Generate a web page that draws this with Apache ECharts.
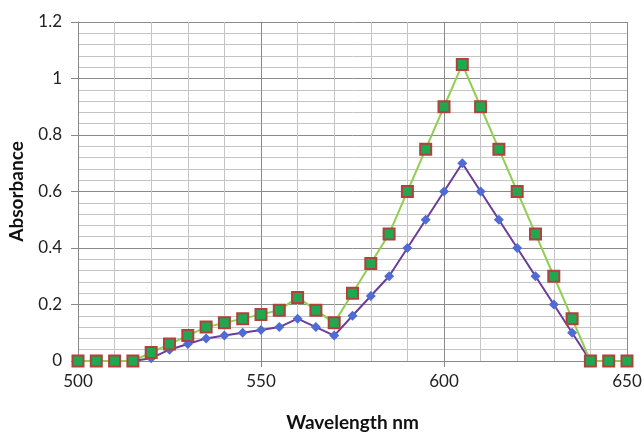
<!DOCTYPE html>
<html>
<head>
<meta charset="UTF-8">
<title>Absorbance</title>
<script src="https://cdn.jsdelivr.net/npm/echarts@6/dist/echarts.min.js"></script>
<style>
  html, body { margin: 0; padding: 0; background: #fff; }
  #chart { width: 644px; height: 432px; }
</style>
</head>
<body>
<div id="chart"></div>
<script>
  // wavelength (nm)
  const wavelengths = [500, 505, 510, 515, 520, 525, 530, 535, 540, 545, 550, 555, 560, 565, 570,
    575, 580, 585, 590, 595, 600, 605, 610, 615, 620, 625, 630, 635, 640, 645, 650];
  // purple line, blue diamonds
  const seriesA = [0, 0, 0, 0, 0.01, 0.04, 0.06, 0.08, 0.09, 0.1, 0.11, 0.12, 0.15, 0.12, 0.09,
    0.16, 0.23, 0.3, 0.4, 0.5, 0.6, 0.7, 0.6, 0.5, 0.4, 0.3, 0.2, 0.1, 0, 0, 0];
  // green line, red/green squares
  const seriesB = [0, 0, 0, 0, 0.03, 0.06, 0.09, 0.12, 0.135, 0.15, 0.165, 0.18, 0.225, 0.18, 0.135,
    0.24, 0.345, 0.45, 0.6, 0.75, 0.9, 1.05, 0.9, 0.75, 0.6, 0.45, 0.3, 0.15, 0, 0, 0];

  const font = "Lato, 'Open Sans', sans-serif";
  const chart = echarts.init(document.getElementById("chart"));

  const pair = (ys) => wavelengths.map((x, i) => [x, ys[i]]);

  chart.setOption({
    animation: false,
    backgroundColor: "#fff",
    grid: { left: 78, right: 17, top: 22, bottom: 71, outerBoundsMode: "none", containLabel: false },
    xAxis: {
      type: "value", min: 500, max: 650, interval: 50,
      name: "Wavelength nm", nameLocation: "middle", nameGap: 52,
      nameTextStyle: { fontFamily: font, fontSize: 19, fontWeight: "bold", color: "#111" },
      axisLine: { show: true, lineStyle: { color: "#888" } },
      axisTick: { show: true, length: 6, lineStyle: { color: "#888" } },
      axisLabel: { fontFamily: font, fontSize: 17, color: "#222", margin: 12 },
      splitLine: { show: true, lineStyle: { color: "#8a8a8a", width: 1 } },
      minorTick: { show: false, splitNumber: 5 },
      minorSplitLine: { show: true, lineStyle: { color: "#c4c4c4", width: 1 } }
    },
    yAxis: {
      type: "value", min: 0, max: 1.2, interval: 0.2,
      name: "Absorbance", nameLocation: "middle", nameGap: 52,
      nameTextStyle: { fontFamily: font, fontSize: 19, fontWeight: "bold", color: "#111" },
      axisLine: { show: true, lineStyle: { color: "#888" } },
      axisTick: { show: true, length: 7, lineStyle: { color: "#888" } },
      axisLabel: { fontFamily: font, fontSize: 17, color: "#222", margin: 16 },
      splitLine: { show: true, lineStyle: { color: "#8a8a8a", width: 1 } },
      minorTick: { show: false, splitNumber: 5 },
      minorSplitLine: { show: true, lineStyle: { color: "#c4c4c4", width: 1 } }
    },
    series: [
      {
        type: "line", data: pair(seriesA),
        symbol: "diamond", symbolSize: 10,
        lineStyle: { color: "#6a3d9a", width: 2 },
        itemStyle: { color: "#4f6bd4", borderWidth: 0 }
      },
      {
        type: "line", data: pair(seriesB),
        symbol: "rect", symbolSize: 11,
        lineStyle: { color: "#92cf50", width: 2 },
        itemStyle: { color: "#1fa84f", borderColor: "#b2403c", borderWidth: 2 }
      }
    ]
  });
</script>
</body>
</html>
